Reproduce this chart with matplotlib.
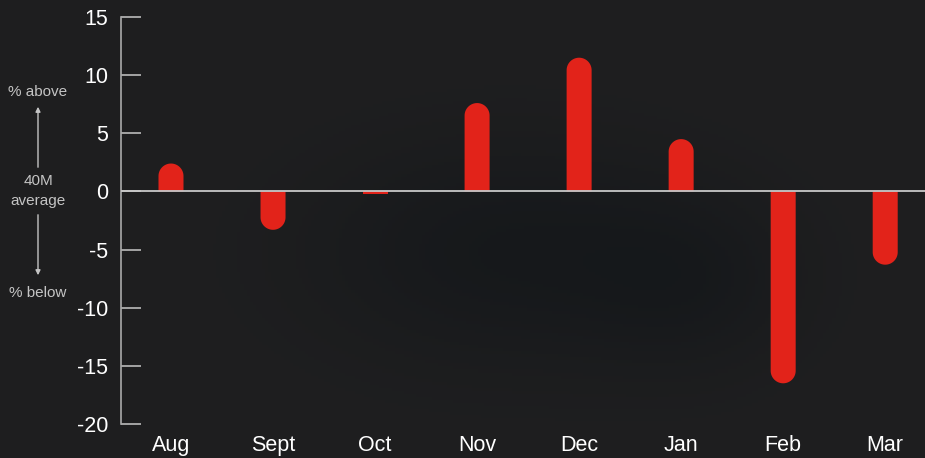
import numpy as np
import matplotlib
matplotlib.use("Agg")
import matplotlib.pyplot as plt
from matplotlib.patches import Polygon, FancyArrowPatch

months = ["Aug", "Sept", "Oct", "Nov", "Dec", "Jan", "Feb", "Mar"]
values = [2.4, -3.3, -0.25, 7.6, 11.5, 4.5, -16.5, -6.3]
yticks = [15, 10, 5, 0, -5, -10, -15, -20]

plt.rcParams['font.family'] = ['Liberation Sans', 'DejaVu Sans']
plt.rcParams['axes.unicode_minus'] = False

BG = "#1e1e1f"
RED = "#e2231a"
GRAY = "#c8c8c8"

W, H = 925, 458
fig = plt.figure(figsize=(W / 100, H / 100), dpi=100, facecolor=BG)

# subtle dark background texture
bgax = fig.add_axes([0, 0, 1, 1], zorder=-10)
gx, gy = np.meshgrid(np.linspace(0, 1, 300), np.linspace(0, 1, 150))
dark = (0.55 * np.exp(-(((gx - 0.55) / 0.22) ** 2 + ((gy - 0.55) / 0.25) ** 2))
        + 0.35 * np.exp(-(((gx - 0.75) / 0.12) ** 2 + ((gy - 0.62) / 0.2) ** 2)))
base = np.array([0x1f, 0x1f, 0x20]) / 255.0
deep = np.array([0x10, 0x14, 0x18]) / 255.0
img = base[None, None, :] * (1 - dark[..., None]) + deep[None, None, :] * dark[..., None]
bgax.imshow(img, extent=[0, 1, 0, 1], aspect='auto', origin='upper')
bgax.axis('off')

left_px, right_px, top_px, bot_px = 121, 925, 17, 424
ax = fig.add_axes([left_px / W, (H - bot_px) / H, (right_px - left_px) / W, (bot_px - top_px) / H])
ax.patch.set_alpha(0)

x = np.arange(len(months))
ax.set_xlim(-0.49, 7.39)
ax.set_ylim(-20, 15)

px_per_unit = (bot_px - top_px) / 35.0
bar_px = 25
ry = (bar_px / 2) / px_per_unit
bw = bar_px / 102.0
rx = bw / 2

theta = np.linspace(0, np.pi, 40)
for xi, v in zip(x, values):
    s = np.sign(v)
    if abs(v) > ry:
        base_y = v - s * ry
        arc_x = xi + rx * np.cos(theta)
        arc_y = base_y + s * ry * np.sin(theta)
        pts = [(xi - rx, 0), (xi + rx, 0)] + list(zip(arc_x, arc_y))
        pts = [(xi - rx, 0), (xi + rx, 0), (xi + rx, base_y)] + list(zip(arc_x, arc_y)) + [(xi - rx, base_y)]
        ax.add_patch(Polygon(pts, closed=True, color=RED, lw=0, zorder=2))
    else:
        ax.bar(xi, v, width=bw, color=RED, zorder=2, linewidth=0)

ax.axhline(0, color=GRAY, lw=1.3, zorder=3)

for sp in ["top", "right", "bottom"]:
    ax.spines[sp].set_visible(False)
ax.spines["left"].set_color("#aaaaaa")
ax.spines["left"].set_linewidth(1.2)

ax.set_yticks(yticks)
ax.set_yticklabels([str(t) for t in yticks])
ax.tick_params(axis='y', direction='in', length=14.4, width=1.2, color="#bbbbbb",
               labelcolor="white", labelsize=15.5, pad=9)
ax.set_xticks(x)
ax.set_xticklabels(months)
ax.tick_params(axis='x', length=0, labelcolor="white", labelsize=15.5, pad=8)

# left annotation
ann_color = "#c4c4c4"
fx = 38 / W
def fy(p):
    return 1 - p / H
fs = 11
fig.text(fx, fy(92), "% above", color=ann_color, fontsize=fs, ha='center', va='center')
fig.text(fx, fy(181), "40M", color=ann_color, fontsize=fs, ha='center', va='center')
fig.text(fx, fy(201), "average", color=ann_color, fontsize=fs, ha='center', va='center')
fig.text(fx, fy(293), "% below", color=ann_color, fontsize=fs, ha='center', va='center')
fig.patches.append(FancyArrowPatch((fx, fy(170)), (fx, fy(104)),
                   transform=fig.transFigure, arrowstyle='-|>', mutation_scale=7,
                   color=ann_color, lw=1))
fig.patches.append(FancyArrowPatch((fx, fy(212)), (fx, fy(278)),
                   transform=fig.transFigure, arrowstyle='-|>', mutation_scale=7,
                   color=ann_color, lw=1))

fig.savefig("out.png", dpi=100, facecolor=BG)
